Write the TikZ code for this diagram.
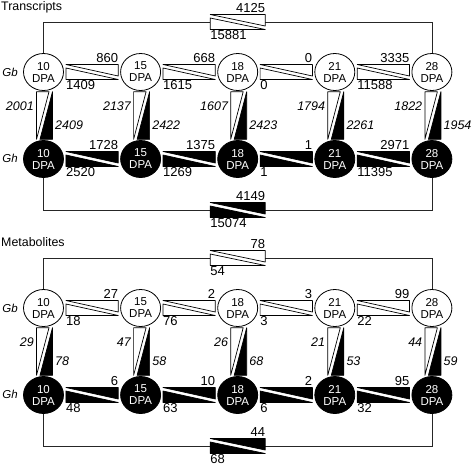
\documentclass[tikz,border=0pt]{standalone}
\usepackage{fontspec}
\setmainfont{Liberation Sans}
\usetikzlibrary{calc,shapes.geometric}
\tikzset{
  dpa/.style={ellipse, draw=black, line width=0.8pt, minimum width=40pt, minimum height=37pt, inner sep=0pt, align=center, font=\fontsize{11.5}{12}\selectfont},
  gbnode/.style={dpa, fill=white, text=black},
  ghnode/.style={dpa, fill=black, text=white},
  num/.style={inner sep=0pt, font=\fontsize{13}{14}\selectfont},
  inum/.style={inner sep=0pt, font=\fontsize{12.5}{14}\selectfont\itshape},
  rowlab/.style={inner sep=0pt, font=\fontsize{11.5}{13}\selectfont\itshape},
  ttl/.style={inner sep=0pt, font=\fontsize{12.4}{14}\selectfont, anchor=base west},
  wtri/.style={draw=black, fill=white, line width=0.7pt, line join=round},
  btri/.style={draw=black, fill=black, line width=0.7pt, line join=round},
  loopline/.style={draw=black!85, line width=0.8pt},
}
% band between two coordinates: #1 left, #2 right, #3 style, #4 upper label, #5 lower label, #6 name
\newcommand\HBandAt[6]{%
  \draw[#3] ($(#1)+(0,-7.5)$) -- ($(#2)+(0,-7.5)$) -- ($(#2)+(0,4)$) -- cycle;
  \draw[#3] ($(#1)+(0,-4)$) -- ($(#1)+(0,7.5)$) -- ($(#2)+(0,7.5)$) -- cycle;
  \node[num, anchor=base east] (#6u) at ($(#2)+(0,-10)$) {#4};
  \node[num, anchor=north west] (#6l) at ($(#1)+(0,8.5)$) {#5};}
% horizontal band between two nodes
\newcommand\HB[5]{%
  \path ($(#1.east)+(2,0)$) coordinate (#1#2L) ($(#2.west)+(-2,0)$) coordinate (#1#2R);
  \HBandAt{#1#2L}{#1#2R}{#3}{#4}{#5}{#1#2}}
% vertical band between two nodes
\newcommand\VB[4]{%
  \path ($(#1.south)+(-7,0.8)$) coordinate (#1#2TL) ($(#1.south)+(9,0.8)$) coordinate (#1#2TR)
        ($(#2.north)+(-7,-0.8)$) coordinate (#1#2BL) ($(#2.north)+(9,-0.8)$) coordinate (#1#2BR);
  \draw[wtri] (#1#2TL) -- ($(#1#2TR)+(-3.5,0)$) -- (#1#2BL) -- cycle;
  \draw[btri] (#1#2TR) -- (#1#2BR) -- ($(#1#2BL)+(3.5,0)$) -- cycle;
  \node[inum, anchor=east] (#1#2l) at ($(#1#2TL)!0.3!(#1#2BL)+(-2.5,0)$) {#3};
  \node[inum, anchor=west] (#1#2r) at ($(#1#2TR)!0.7!(#1#2BR)+(2.5,0)$) {#4};}
% one panel: #1 prefix, #2 y offset, #3 title
\newcommand\Panel[3]{%
  \node[ttl] (#1-title) at (1, 10.5+#2) {#3};
  \node[rowlab] (#1-gb) at (10, 72+#2) {Gb};
  \node[rowlab] (#1-gh) at (10, 158+#2) {Gh};
  \foreach \i/\lab in {1/10,2/15,3/18,4/21,5/28} {
    \node[gbnode] (#1-g\i) at ({43.5+97.1*(\i-1)}, 72+#2) {\lab\\DPA};
    \node[ghnode] (#1-h\i) at ({43.5+97.1*(\i-1)}, 159+#2) {\lab\\DPA};
  }
  \coordinate (#1-tL) at (210.2, 22+#2);
  \coordinate (#1-tR) at (265.2, 22+#2);
  \coordinate (#1-bL) at (210.2, 210+#2);
  \coordinate (#1-bR) at (265.2, 210+#2);
  \draw[loopline] (#1-g1.north) |- (#1-tL);
  \draw[loopline] (#1-tR) -| (#1-g5.north);
  \draw[loopline] (#1-h1.south) |- (#1-bL);
  \draw[loopline] (#1-bR) -| (#1-h5.south);}
\begin{document}
\begin{tikzpicture}[x=1pt, y=-1pt]
\useasboundingbox (0,0) rectangle (472,467);
% ---------- Transcripts ----------
\Panel{t}{0}{Transcripts}
\HBandAt{t-tL}{t-tR}{wtri}{4125}{15881}{t-top}
\HBandAt{t-bL}{t-bR}{btri}{4149}{15074}{t-bot}
\HB{t-g1}{t-g2}{wtri}{860}{1409}
\HB{t-g2}{t-g3}{wtri}{668}{1615}
\HB{t-g3}{t-g4}{wtri}{0}{0}
\HB{t-g4}{t-g5}{wtri}{3335}{11588}
\HB{t-h1}{t-h2}{btri}{1728}{2520}
\HB{t-h2}{t-h3}{btri}{1375}{1269}
\HB{t-h3}{t-h4}{btri}{1}{1}
\HB{t-h4}{t-h5}{btri}{2971}{11395}
\VB{t-g1}{t-h1}{2001}{2409}
\VB{t-g2}{t-h2}{2137}{2422}
\VB{t-g3}{t-h3}{1607}{2423}
\VB{t-g4}{t-h4}{1794}{2261}
\VB{t-g5}{t-h5}{1822}{1954}
% ---------- Metabolites ----------
\Panel{m}{236}{Metabolites}
\HBandAt{m-tL}{m-tR}{wtri}{78}{54}{m-top}
\HBandAt{m-bL}{m-bR}{btri}{44}{68}{m-bot}
\HB{m-g1}{m-g2}{wtri}{27}{18}
\HB{m-g2}{m-g3}{wtri}{2}{76}
\HB{m-g3}{m-g4}{wtri}{3}{3}
\HB{m-g4}{m-g5}{wtri}{99}{22}
\HB{m-h1}{m-h2}{btri}{6}{48}
\HB{m-h2}{m-h3}{btri}{10}{63}
\HB{m-h3}{m-h4}{btri}{2}{6}
\HB{m-h4}{m-h5}{btri}{95}{32}
\VB{m-g1}{m-h1}{29}{78}
\VB{m-g2}{m-h2}{47}{58}
\VB{m-g3}{m-h3}{26}{68}
\VB{m-g4}{m-h4}{21}{53}
\VB{m-g5}{m-h5}{44}{59}
\end{tikzpicture}
\end{document}
